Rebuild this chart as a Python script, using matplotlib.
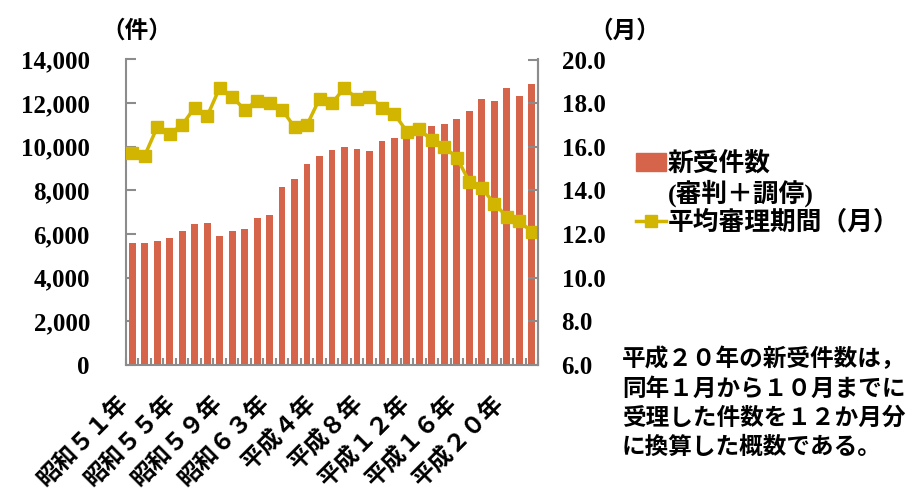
import matplotlib
matplotlib.use('Agg')
from matplotlib import pyplot as plt
from matplotlib import transforms
from matplotlib.patches import Patch
from matplotlib.lines import Line2D
import numpy as np

plt.rcParams['font.family'] = ['Liberation Serif', 'Noto Sans CJK JP']
plt.rcParams['font.weight'] = 'bold'

# 昭和51年(1976)〜平成20年(2008)
years = list(range(1976, 2009))
cases = [5580, 5580, 5690, 5810, 6160, 6470, 6510, 5920, 6160, 6220,
         6740, 6870, 8170, 8520, 9220, 9570, 9860, 9990, 9920, 9800,
         10280, 10380, 10380, 10630, 10960, 11040, 11270, 11640, 12200, 12100,
         12680, 12320, 12860]
months = [15.7, 15.6, 16.9, 16.6, 17.0, 17.8, 17.4, 18.7, 18.3, 17.7,
          18.1, 18.0, 17.7, 16.9, 17.0, 18.2, 18.0, 18.7, 18.2, 18.3,
          17.8, 17.5, 16.7, 16.8, 16.3, 16.0, 15.5, 14.4, 14.1, 13.4,
          12.8, 12.6, 12.1]
label_idx = [0, 4, 8, 12, 16, 20, 24, 28, 32]
x_labels = ['昭和５１年', '昭和５５年', '昭和５９年', '昭和６３年', '平成４年',
            '平成８年', '平成１２年', '平成１６年', '平成２０年']
left_ticks = [0, 2000, 4000, 6000, 8000, 10000, 12000, 14000]
right_ticks = [6.0, 8.0, 10.0, 12.0, 14.0, 16.0, 18.0, 20.0]

bar_color = '#D6644B'
line_color = '#D1B500'
axis_color = '#8C8C8C'
fs = 17
num_fs = 18

fig = plt.figure(figsize=(9.17, 4.98), dpi=100)
ax = fig.add_axes([126 / 917, 1 - 365 / 498, (538 - 126) / 917, (365 - 59.5) / 498])
ax2 = ax.twinx()

x = np.arange(len(years))
ax.bar(x, cases, width=0.55, color=bar_color, zorder=2)
ax2.plot(x, months, color=line_color, lw=2.5, marker='s', markersize=8,
         markeredgecolor=line_color)

ax.set_xlim(-0.5, len(years) - 0.5)
ax.set_ylim(0, 14000)
ax2.set_ylim(6, 20)

ax.set_yticks(left_ticks)
ax.set_yticklabels([f'{v:,}' for v in left_ticks], fontsize=num_fs)
ax2.set_yticks(right_ticks)
ax2.set_yticklabels([f'{v:.1f}' for v in right_ticks], fontsize=num_fs)

# 年ラベル（斜め）。元の図ではラベル間隔がやや詰まっている
ax.set_xticks(label_idx)
ax.set_xticklabels([])
shift = transforms.ScaledTranslation(-0.15, -0.27, fig.dpi_scale_trans)
for i, lab in zip(label_idx, x_labels):
    ax.text(i * 0.94, 0, lab, transform=ax.get_xaxis_transform() + shift,
            rotation=45, ha='right', va='top', rotation_mode='anchor',
            fontsize=fs)
ax.set_xticks(np.arange(-0.5, len(years)), minor=True)
ax.tick_params(axis='x', which='major', length=0)
ax.tick_params(axis='x', which='minor', direction='in', length=5,
               color=axis_color, width=1.5)
ax.tick_params(axis='y', direction='in', length=7, color=axis_color,
               width=1.5, pad=26)
ax2.tick_params(axis='y', direction='in', length=7, color=axis_color,
                width=1.5, pad=17)

for a in (ax, ax2):
    a.spines['top'].set_visible(False)
    for s in ('left', 'right', 'bottom'):
        a.spines[s].set_color(axis_color)
        a.spines[s].set_linewidth(1.5)
ax2.spines['left'].set_visible(False)
ax2.spines['bottom'].set_visible(False)

fig.text(137 / 917, 1 - 31 / 498, '（件）', ha='center', va='center', fontsize=fs)
fig.text(625 / 917, 1 - 31 / 498, '（月）', ha='center', va='center', fontsize=fs)

handles = [Patch(color=bar_color), Patch(visible=False),
           Line2D([], [], color=line_color, lw=2.5, marker='s', markersize=8)]
labels = ['新受件数', '(審判＋調停)', '平均審理期間（月）']
fig.legend(handles, labels, loc='upper left', bbox_to_anchor=(636 / 917, 1 - 152 / 498),
           frameon=False, fontsize=18.5, handlelength=1.15, handletextpad=0.1,
           borderpad=0, borderaxespad=0, labelspacing=0.12)

note = ('平成２０年の新受件数は，\n同年１月から１０月までに\n'
        '受理した件数を１２か月分\nに換算した概数である。')
fig.text(622 / 917, 1 - 347 / 498, note, ha='left', va='top', fontsize=17,
         linespacing=1.40)

fig.savefig('out.png', dpi=100)
